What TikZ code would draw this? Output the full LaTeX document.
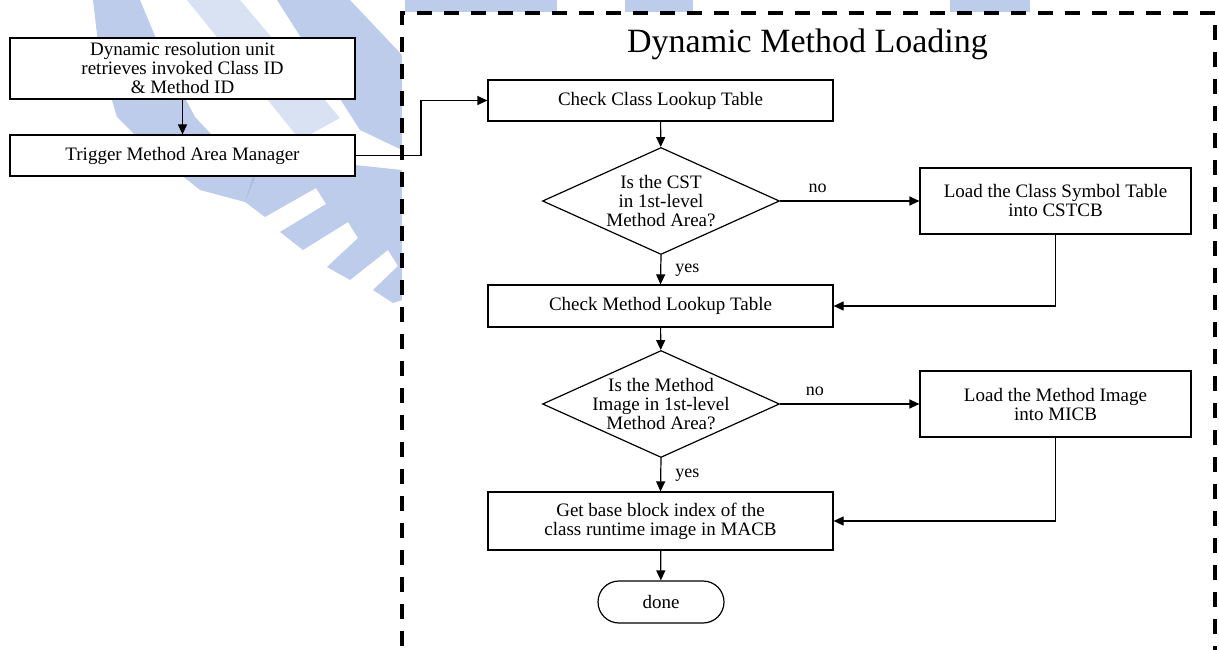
\documentclass[tikz,border=0pt]{standalone}
\usepackage{fontspec}
\setmainfont{Liberation Serif}
\usetikzlibrary{arrows.meta,shapes.geometric}
\definecolor{wm}{RGB}{160,183,225}

\begin{document}
\begin{tikzpicture}[x=1pt,y=-1pt,
  boxfont/.style={font=\fontsize{19}{19}\selectfont},
  box/.style={boxfont,draw,line width=1.2pt,fill=white,inner sep=0pt,
    align=center,minimum width=345pt},
  sidebox/.style={box,minimum width=271pt,minimum height=66pt},
  decision/.style={draw,line width=1.2pt,fill=white,shape=diamond,inner sep=0pt,
    minimum width=237pt,minimum height=107pt},
  dtext/.style={boxfont,align=center,inner sep=0pt},
  terminal/.style={box,minimum width=126pt,minimum height=42pt,rounded corners=21pt},
  lbl/.style={font=\fontsize{18}{18}\selectfont,inner sep=0pt},
  arr/.style={line width=1.2pt,-{Triangle[length=10pt,width=9pt]}},
  frame/.style={line width=4pt,dash pattern=on 15pt off 12pt,fill=white},
  emblem/.style={fill=wm,opacity=0.7},
  emblemlight/.style={fill=wm,opacity=0.4}
]
\useasboundingbox (0,0) rectangle (1219,650);
\clip (0,0) rectangle (1219,650);

% faint background emblem: diagonal bands ending in a comb
\fill[emblem] (93,0) -- (140,0) -- (165,60) -- (195,117) -- (240,165) -- (255,178)
  -- (245,202) -- (200,190) -- (150,150) -- (117,117) -- (100,60) -- cycle;
\fill[emblemlight] (187,0) -- (240,0) -- (340,118) -- (300,140) -- cycle;
\fill[emblem] (277,0) -- (350,0) -- (402,55) -- (402,150) -- (360,130) -- cycle;
\fill[emblem] (245,202) -- (265,217) -- (316,188) -- (326,204) -- (280,232)
  -- (303,250) -- (348,222) -- (358,238) -- (327,267) -- (350,280)
  -- (388,250) -- (398,266) -- (373,290) -- (393,303) -- (402,300)
  -- (402,170) -- (355,165) -- (300,165) -- (255,170) -- cycle;
\fill[emblem] (405,0) -- (557,0) -- (557,12) -- (405,12) -- cycle;
\fill[emblem] (625,0) -- (693,0) -- (693,12) -- (625,12) -- cycle;
\fill[emblem] (950,0) -- (1030,0) -- (1030,12) -- (950,12) -- cycle;

% dashed frame around the loading procedure
\draw[frame] (402,700) -- (402,13) -- (1215,13) -- (1215,700);
\node[anchor=base,font=\fontsize{34}{34}\selectfont,inner sep=0pt] (title)
  at (807.5,53) {Dynamic Method Loading};

% resolution side
\node[box,minimum height=61pt] (res) at (182.5,68.5)
  {Dynamic resolution unit\\retrieves invoked Class ID\\\& Method ID};
\node[box,minimum height=41pt] (trig) at (182.5,155.5) {Trigger Method Area Manager};

% loading procedure
\node[box,minimum height=41pt] (cclt) at (660.5,100.5) {Check Class Lookup Table};
\node[decision] (d1) at (661,201) {};
\node[dtext] (d1t) at (661,201) {Is the CST\\in 1st-level\\Method Area?};
\node[sidebox] (lcst) at (1055.5,201) {Load the Class Symbol Table\\into CSTCB};
\node[box,minimum height=42pt] (cmlt) at (660.5,306) {Check Method Lookup Table};
\node[decision] (d2) at (661,404) {};
\node[dtext] (d2t) at (661,404) {Is the Method\\Image in 1st-level\\Method Area?};
\node[sidebox] (lmi) at (1055.5,404) {Load the Method Image\\into MICB};
\node[box,minimum height=58pt] (base) at (660.5,521)
  {Get base block index of the\\class runtime image in MACB};
\node[terminal] (done) at (661,602) {done};

\coordinate (jog) at (421,0);

% connectors
\draw[arr] (res) -- (trig);
\draw[arr] (trig.east) -- (trig.east -| jog) |- (cclt.west);
\draw[arr] (cclt) -- (d1);
\draw[arr] (d1.east) -- node[lbl,pos=0.27,anchor=base,yshift=8pt] (no1) {no} (lcst.west);
\draw[arr] (d1.south) -- node[lbl,pos=0.6,anchor=base west,xshift=14pt] (yes1) {yes} (cmlt.north);
\draw[arr] (lcst.south) |- (cmlt.east);
\draw[arr] (cmlt) -- (d2);
\draw[arr] (d2.east) -- node[lbl,pos=0.25,anchor=base,yshift=9pt] (no2) {no} (lmi.west);
\draw[arr] (d2.south) -- node[lbl,pos=0.59,anchor=base west,xshift=14pt] (yes2) {yes} (base.north);
\draw[arr] (lmi.south) |- (base.east);
\draw[arr] (base) -- (done);
\end{tikzpicture}
\end{document}
